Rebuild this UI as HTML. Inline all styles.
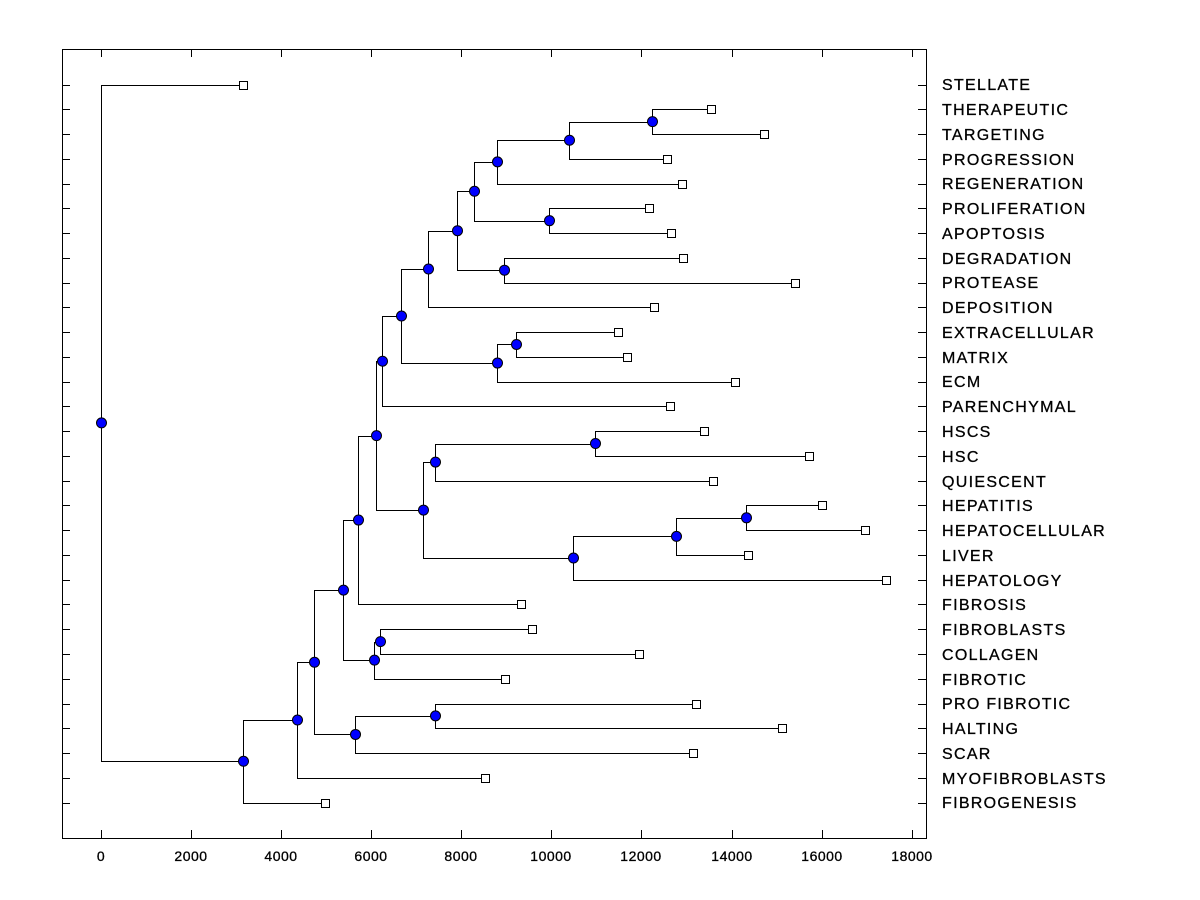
<!DOCTYPE html>
<html><head><meta charset="utf-8"><style>
html,body{margin:0;padding:0;background:#fff;}
svg{display:block;}
text{font-family:"Liberation Sans",Arial,sans-serif;fill:#000;}
</style></head><body>
<svg id="s" width="1200" height="900" xmlns="http://www.w3.org/2000/svg">
<rect x="62.5" y="49.5" width="864" height="789" fill="none" stroke="#000" stroke-width="1"/>
<g id="ticks" stroke="#000" stroke-width="1"></g>
<g id="tree" stroke="#000" stroke-width="1" fill="none"></g>
<g id="marks"></g>
<g font-size="14" text-anchor="middle" stroke="#000" stroke-width="0.3" letter-spacing="0.5">
<text x="101" y="861">0</text><text x="191" y="861">2000</text><text x="281" y="861">4000</text><text x="371" y="861">6000</text><text x="461" y="861">8000</text><text x="551" y="861">10000</text><text x="641" y="861">12000</text><text x="732" y="861">14000</text><text x="822" y="861">16000</text><text x="912" y="861">18000</text>
</g>
<g font-size="16" id="labels" letter-spacing="1.3" stroke="#000" stroke-width="0.3">
<text x="942" y="90">STELLATE</text>
<text x="942" y="115">THERAPEUTIC</text>
<text x="942" y="140">TARGETING</text>
<text x="942" y="165">PROGRESSION</text>
<text x="942" y="189">REGENERATION</text>
<text x="942" y="214">PROLIFERATION</text>
<text x="942" y="239">APOPTOSIS</text>
<text x="942" y="264">DEGRADATION</text>
<text x="942" y="288">PROTEASE</text>
<text x="942" y="313">DEPOSITION</text>
<text x="942" y="338">EXTRACELLULAR</text>
<text x="942" y="363">MATRIX</text>
<text x="942" y="387">ECM</text>
<text x="942" y="412">PARENCHYMAL</text>
<text x="942" y="437">HSCS</text>
<text x="942" y="462">HSC</text>
<text x="942" y="487">QUIESCENT</text>
<text x="942" y="511">HEPATITIS</text>
<text x="942" y="536">HEPATOCELLULAR</text>
<text x="942" y="561">LIVER</text>
<text x="942" y="586">HEPATOLOGY</text>
<text x="942" y="610">FIBROSIS</text>
<text x="942" y="635">FIBROBLASTS</text>
<text x="942" y="660">COLLAGEN</text>
<text x="942" y="685">FIBROTIC</text>
<text x="942" y="709">PRO FIBROTIC</text>
<text x="942" y="734">HALTING</text>
<text x="942" y="759">SCAR</text>
<text x="942" y="784">MYOFIBROBLASTS</text>
<text x="942" y="808">FIBROGENESIS</text>
</g>
</svg>
<script>
var NS="http://www.w3.org/2000/svg";
function el(p,t,a){var e=document.createElementNS(NS,t);for(var k in a)e.setAttribute(k,a[k]);p.appendChild(e);return e;}
var tk=document.getElementById('ticks'),tr=document.getElementById('tree'),mk=document.getElementById('marks');
function ry(i){return 84.5+i*24.76;}
for(var i=0;i<30;i++){var y=Math.round(ry(i))+0.5;el(tk,'line',{x1:62,y1:y,x2:70,y2:y});el(tk,'line',{x1:918,y1:y,x2:926,y2:y});}
[101,191,281,371,461,551,641,732,822,912].forEach(function(x){x+=0.5;el(tk,'line',{x1:x,y1:49,x2:x,y2:57});el(tk,'line',{x1:x,y1:830,x2:x,y2:838});});
var leafX=[243,711,764,667,682,649,671,683,795,654,618,627,735,670,704,809,713,822,865,748,886,521,532,639,505,696,782,693,485,325];
var N={};
leafX.forEach(function(x,i){N['l'+i]={x:x,y:ry(i),leaf:true};});
var defs=[['A',652,'l1','l2'],['B',569,'A','l3'],['C',497,'B','l4'],['D',549,'l5','l6'],['E',474,'C','D'],['F',504,'l7','l8'],['G',457,'E','F'],['H',428,'G','l9'],['I',516,'l10','l11'],['J',497,'I','l12'],['K',401,'H','J'],['L',382,'K','l13'],['M',595,'l14','l15'],['N',435,'M','l16'],['O',746,'l17','l18'],['P',676,'O','l19'],['Q',573,'P','l20'],['R',423,'N','Q'],['S',376,'L','R'],['T',358,'S','l21'],['U',380,'l22','l23'],['V',374,'U','l24'],['W',343,'T','V'],['X',435,'l25','l26'],['Y',355,'X','l27'],['Z',314,'W','Y'],['AA',297,'Z','l28'],['BB',243,'AA','l29'],['R0',101,'l0','BB']];
var dots=[];
defs.forEach(function(d){var a=N[d[2]],b=N[d[3]],x=d[1]+0.5,y=(a.y+b.y)/2;N[d[0]]={x:d[1],y:y};
var ay=Math.round(a.y)+0.5,by=Math.round(b.y)+0.5;
el(tr,'polyline',{points:(a.x+0.5)+','+ay+' '+x+','+ay+' '+x+','+by+' '+(b.x+0.5)+','+by});
dots.push([x,y]);});
leafX.forEach(function(x,i){el(mk,'rect',{x:x-3.5,y:Math.round(ry(i))-3.5,width:8,height:8,fill:'#fff',stroke:'#000','stroke-width':1});});
dots.forEach(function(d){el(mk,'circle',{cx:d[0],cy:d[1],r:5,fill:'#0000ff',stroke:'#000','stroke-width':1});});
</script>
</body></html>
